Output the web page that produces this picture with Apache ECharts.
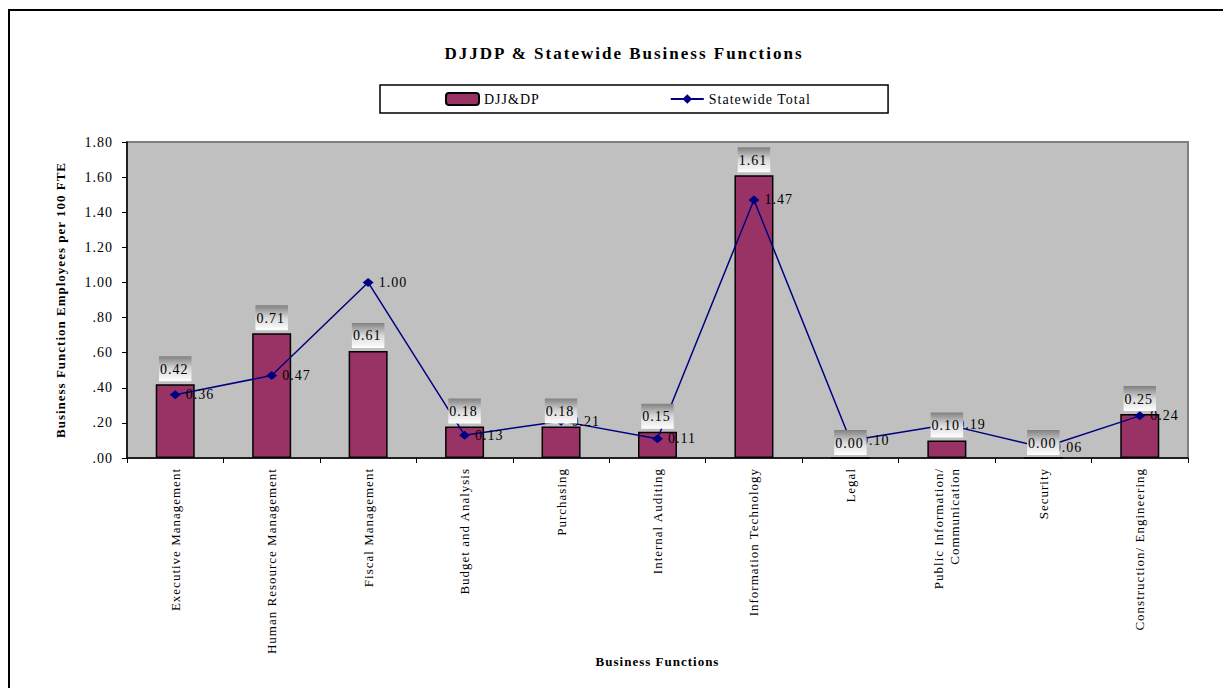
<!DOCTYPE html>
<html><head><meta charset="utf-8">
<script src="https://cdn.jsdelivr.net/npm/echarts@6/dist/echarts.min.js"></script>
<style>
html,body{margin:0;padding:0;background:#fff;}
#c{width:1223px;height:688px;}
#c text{letter-spacing:1px;}
#c text[style*="17px"]{letter-spacing:2px;}
</style>
</head><body><div id="c"></div>
<script>
// ---- data ----
const categories = [
  'Executive Management',
  'Human Resource Management',
  'Fiscal Management',
  'Budget and Analysis',
  'Purchasing',
  'Internal Auditing',
  'Information Technology',
  'Legal',
  'Public Information/\nCommunication',
  'Security',
  'Construction/ Engineering'
];
const djjdpValues = [0.42, 0.71, 0.61, 0.18, 0.18, 0.15, 1.61, 0.00, 0.10, 0.00, 0.25];
const statewideValues = [0.36, 0.47, 1.00, 0.13, 0.21, 0.11, 1.47, 0.10, 0.19, 0.06, 0.24];
const yTickLabels = ['.00', '.20', '.40', '.60', '.80', '1.00', '1.20', '1.40', '1.60', '1.80'];
const seriesNames = ['DJJ&DP', 'Statewide Total'];
const titleText = 'DJJDP & Statewide Business Functions';
const xAxisTitle = 'Business Functions';
const yAxisTitle = 'Business Function Employees per 100 FTE';

// ---- chart ----
const FONT = '"Liberation Serif", "Times New Roman", serif';
const chart = echarts.init(document.getElementById('c'), null, { renderer: 'svg' });

const labelBg = new echarts.graphic.LinearGradient(0, 0, 0, 1, [
  { offset: 0, color: '#808080' },
  { offset: 0.5, color: '#d8d8d8' },
  { offset: 1, color: '#ffffff' }
]);

const option = {
  animation: false,
  backgroundColor: '#ffffff',
  textStyle: { fontFamily: FONT, color: '#000' },
  graphic: [{
    type: 'rect',
    shape: { x: 9, y: 10, width: 1400, height: 900 },
    style: { fill: 'none', stroke: '#000', lineWidth: 2 },
    silent: true,
    z: 0
  }],
  title: {
    text: titleText,
    left: 619,
    top: 40,
    textAlign: 'center',
    textStyle: { fontFamily: FONT, fontSize: 17, fontWeight: 'bold', color: '#000' }
  },
  legend: {
    data: seriesNames,
    left: 380,
    top: 85,
    padding: [7, 92, 7, 65],
    itemGap: 136,
    itemWidth: 33,
    itemHeight: 12,
    borderColor: '#000',
    borderWidth: 1.5,
    backgroundColor: '#fff',
    textStyle: { fontFamily: FONT, fontSize: 14, color: '#000' }
  },
  grid: {
    left: 127, right: 35, top: 142, bottom: 230,
    show: true,
    backgroundColor: '#c0c0c0',
    borderColor: '#808080',
    borderWidth: 2
  },
  xAxis: {
    type: 'category',
    data: categories,
    name: xAxisTitle,
    nameLocation: 'middle',
    nameGap: 197,
    nameTextStyle: { fontFamily: FONT, fontSize: 13, fontWeight: 'bold', color: '#000' },
    axisLine: { lineStyle: { color: '#000', width: 1.5 } },
    axisTick: { show: true, length: 5, lineStyle: { color: '#000' } },
    axisLabel: {
      interval: 0, rotate: 90, margin: 10,
      fontFamily: FONT, fontSize: 13, color: '#000', lineHeight: 16
    }
  },
  yAxis: {
    type: 'value',
    min: 0, max: 1.8, interval: 0.2,
    name: yAxisTitle,
    nameLocation: 'middle',
    nameGap: 60,
    nameTextStyle: { fontFamily: FONT, fontSize: 13, fontWeight: 'bold', color: '#000' },
    axisLine: { show: true, lineStyle: { color: '#000', width: 1.5 } },
    axisTick: { show: true, length: 5, lineStyle: { color: '#000' } },
    splitLine: { show: false },
    axisLabel: {
      margin: 14, fontFamily: FONT, fontSize: 14, color: '#000',
      formatter: function (v) { return yTickLabels[Math.round(v / 0.2)]; }
    }
  },
  series: [
    {
      name: seriesNames[0],
      type: 'bar',
      data: djjdpValues,
      barWidth: 39,
      barGap: '-100%',
      z: 2,
      itemStyle: { color: '#993366', borderColor: '#000', borderWidth: 1.5 },
      emphasis: { disabled: true }
    },
    {
      name: seriesNames[1],
      type: 'line',
      data: statewideValues,
      z: 3,
      symbol: 'diamond',
      symbolSize: [11, 9],
      lineStyle: { color: '#000080', width: 1.5 },
      itemStyle: { color: '#000080' },
      label: {
        show: true, position: 'right', distance: 5,
        fontFamily: FONT, fontSize: 14, color: '#000',
        formatter: function (p) { return p.value.toFixed(2); }
      },
      emphasis: { disabled: true }
    },
    {
      name: 'labels',
      type: 'bar',
      data: djjdpValues,
      barWidth: 39,
      barGap: '-100%',
      z: 4,
      silent: true,
      itemStyle: { color: 'rgba(0,0,0,0)', borderWidth: 0 },
      label: {
        show: true, position: 'top', distance: 3,
        fontFamily: FONT, fontSize: 14, color: '#000',
        backgroundColor: labelBg,
        padding: [6, 5, 5, 3],
        formatter: function (p) { return p.value.toFixed(2); }
      },
      emphasis: { disabled: true }
    }
  ]
};
chart.setOption(option);
</script>
</body></html>
